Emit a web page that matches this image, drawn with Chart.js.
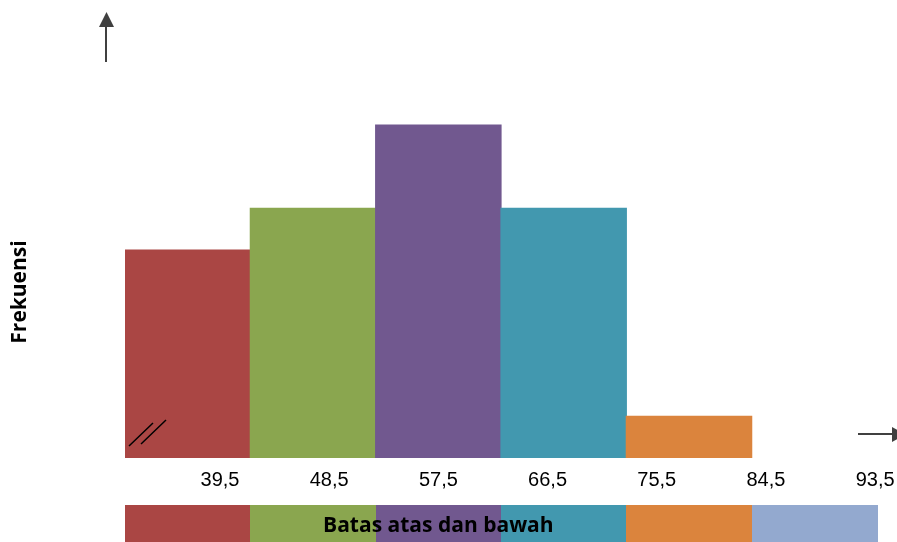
<!DOCTYPE html>
<html>
<head>
<meta charset="utf-8">
<script src="https://cdn.jsdelivr.net/npm/chart.js@4/dist/chart.umd.min.js"></script>
<style>
  html, body { margin: 0; padding: 0; background: #fff; }
  #wrap { width: 897px; height: 542px; position: relative; }
</style>
</head>
<body>
<div id="wrap"><canvas id="histogram"></canvas></div>
<script>
// Class intervals, frequencies and boundary labels
const classes = ['39,5 - 48,5', '48,5 - 57,5', '57,5 - 66,5', '66,5 - 75,5', '75,5 - 84,5', '84,5 - 93,5'];
const frequencies = [5, 6, 8, 6, 1, 0];
const boundaries = ['39,5', '48,5', '57,5', '66,5', '75,5', '84,5', '93,5'];
const classColors = ['#AA4644', '#8AA64F', '#71588F', '#4298AF', '#DB843D', '#93A9CF'];

const yTitle = 'Frekuensi';
const xTitle = 'Batas atas dan bawah';

// Boundary labels, colour strip, axis arrows and the axis-break mark
const decorations = {
  id: 'decorations',
  afterDraw(chart) {
    const ctx = chart.ctx;
    const area = chart.chartArea;
    const x = chart.scales.x;
    const band = x.width / classes.length;

    ctx.save();

    // boundary labels, spread a little tighter than the bars
    ctx.fillStyle = '#000';
    ctx.font = '20px "Liberation Sans", Arial, sans-serif';
    ctx.textAlign = 'center';
    ctx.textBaseline = 'middle';
    boundaries.forEach((lbl, i) => {
      ctx.fillText(lbl, x.getPixelForDecimal(0.1263 + 0.1452 * i), area.bottom + 22);
    });

    // colour strip under the labels
    classes.forEach((c, i) => {
      const cx = x.getPixelForValue(i);
      ctx.fillStyle = classColors[i];
      ctx.fillRect(Math.round(cx - band / 2), 505, Math.round(band) + 1, 40);
    });

    // x title over the strip
    ctx.fillStyle = '#000';
    ctx.font = 'bold 21px "Open Sans", "Noto Sans", sans-serif';
    ctx.fillText(xTitle, x.getPixelForValue(2), 526);

    // y title
    ctx.save();
    ctx.translate(20, 292);
    ctx.rotate(-Math.PI / 2);
    ctx.fillText(yTitle, 0, 0);
    ctx.restore();

    // axis arrows
    ctx.strokeStyle = '#404040';
    ctx.fillStyle = '#404040';
    ctx.lineWidth = 2;
    ctx.beginPath();
    ctx.moveTo(106, 62);
    ctx.lineTo(106, 26);
    ctx.stroke();
    ctx.beginPath();
    ctx.moveTo(99, 27);
    ctx.lineTo(114, 27);
    ctx.lineTo(106.5, 12);
    ctx.closePath();
    ctx.fill();

    ctx.beginPath();
    ctx.moveTo(858, 434);
    ctx.lineTo(893, 434);
    ctx.stroke();
    ctx.beginPath();
    ctx.moveTo(892, 427);
    ctx.lineTo(892, 442);
    ctx.lineTo(906, 434.5);
    ctx.closePath();
    ctx.fill();

    // axis break "//"
    ctx.strokeStyle = '#000';
    ctx.lineWidth = 1.5;
    ctx.beginPath();
    ctx.moveTo(area.left + 4, area.bottom - 12);
    ctx.lineTo(area.left + 28, area.bottom - 35);
    ctx.moveTo(area.left + 16, area.bottom - 14);
    ctx.lineTo(area.left + 41, area.bottom - 38);
    ctx.stroke();

    ctx.restore();
  }
};

new Chart(document.getElementById('histogram'), {
  type: 'bar',
  data: {
    labels: classes,
    datasets: [{
      data: frequencies,
      backgroundColor: classColors,
      borderWidth: 0,
      // overlap neighbouring bars slightly, but leave empty classes empty
      inflateAmount: c => (c.raw > 0 ? 0.6 : 0),
      barPercentage: 1,
      categoryPercentage: 1
    }]
  },
  options: {
    responsive: true,
    maintainAspectRatio: false,
    animation: false,
    layout: {
      padding: {left: 125, right: 20, top: 42, bottom: 84}
    },
    plugins: {
      legend: {display: false},
      tooltip: {enabled: false}
    },
    scales: {
      x: {display: false},
      y: {display: false, min: 0, max: 10}
    }
  },
  plugins: [decorations]
});
</script>
</body>
</html>
